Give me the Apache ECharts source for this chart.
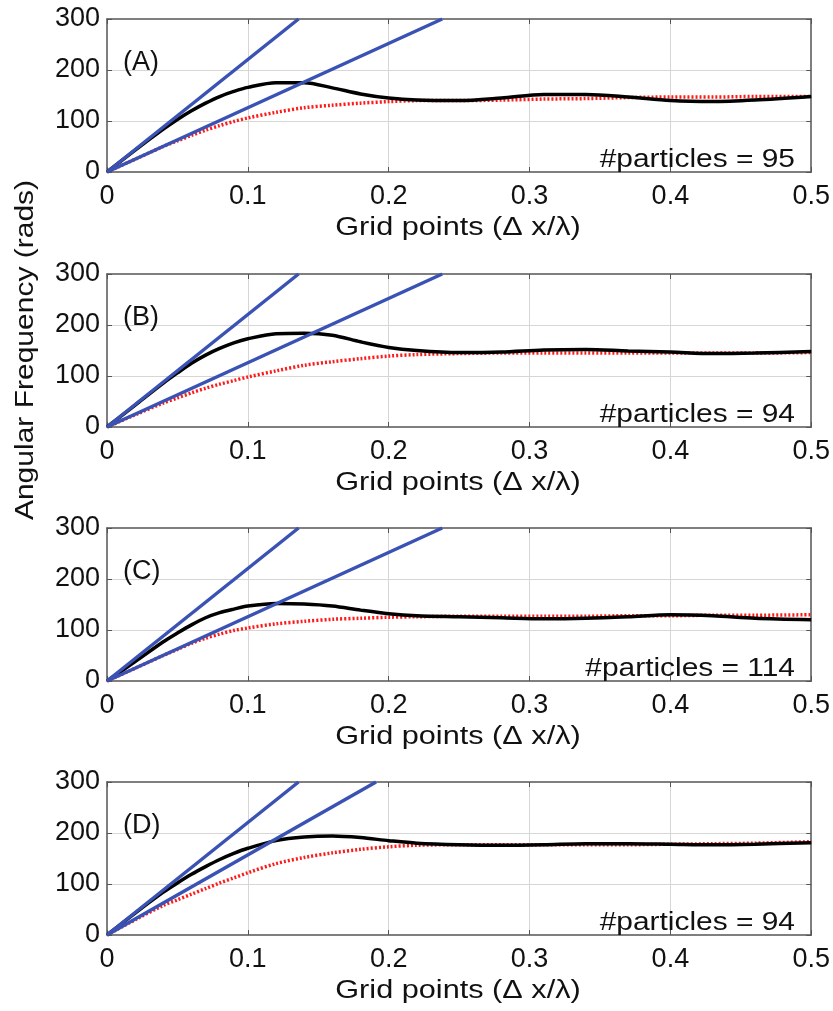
<!DOCTYPE html>
<html>
<head>
<meta charset="utf-8">
<script src="https://cdn.jsdelivr.net/npm/echarts@6/dist/echarts.min.js"></script>
<style>
  html, body { margin: 0; padding: 0; background: #fff; }
  #chart { width: 833px; height: 1011px; }
</style>
</head>
<body>
<div id="chart"></div>
<script>
// sample positions along x (grid points, dx/lambda)
const xs = [0, 0.02, 0.04, 0.05, 0.06, 0.07, 0.08, 0.09, 0.1, 0.12, 0.14, 0.16, 0.18, 0.2, 0.22, 0.25, 0.28, 0.31, 0.34, 0.37, 0.4, 0.43, 0.46, 0.5];

const panelNames = ['(A)', '(B)', '(C)', '(D)'];
const particleCounts = [95, 94, 114, 94];

// black solid curves
const blackA = [0, 43, 84, 103, 120, 135, 148, 158, 166, 175, 175, 165, 153, 145, 141, 140, 145, 152, 152, 147, 140, 138, 141, 148];
const blackB = [0, 43, 86, 106, 125, 141, 154, 165, 173, 183, 184, 180, 167, 156, 150, 146, 147, 151, 152, 149, 147, 144, 145, 148];
const blackC = [0, 38, 77, 94, 110, 124, 134, 141, 147, 152, 151, 147, 139, 132, 128, 126, 124, 122, 123, 126, 130, 128, 123, 120];
const blackD = [0, 43, 84, 102, 119, 134, 148, 160, 170, 185, 192, 194, 191, 185, 180, 177, 176, 177, 179, 179, 178, 177, 178, 181];

// red dotted curves
const redA = [0, 25, 50, 61, 72, 82, 91, 99, 106, 117, 126, 131, 135, 138, 140, 140, 141, 143, 144, 146, 147, 147, 148, 148];
const redB = [0, 24, 47, 57, 67, 76, 84, 91, 98, 110, 121, 128, 134, 139, 142, 144, 145, 145, 145, 145, 145, 145, 145, 146];
const redC = [0, 25, 50, 62, 74, 84, 92, 99, 104, 112, 117, 121, 123, 125, 126, 127, 127, 127, 127, 128, 128, 129, 129, 130];
const redD = [0, 30, 58, 69, 80, 91, 102, 112, 122, 140, 152, 161, 168, 173, 176, 177, 177, 177, 177, 177, 178, 179, 180, 183];

// straight blue lines: x where each reaches 300
const steepEndX = [0.136, 0.136, 0.136, 0.136];
const shallowEndX = [0.238, 0.238, 0.238, 0.191];

const yTicks = [0, 100, 200, 300];

const blacks = [blackA, blackB, blackC, blackD];
const reds = [redA, redB, redC, redD];
const tops = [19, 274, 528, 782];
const plotH = 153;
const plotLeft = 107;
const plotW = 705;

const font = 'Liberation Sans, Arial, sans-serif';
const chart = echarts.init(document.getElementById('chart'));

const grids = [], xAxes = [], yAxes = [], series = [], graphics = [];

function xAxisOf(i, pos, labels) {
  return {
    type: 'value', gridIndex: i, position: pos, min: 0, max: 0.5, interval: 0.1,
    axisLine: { show: true, onZero: false, lineStyle: { color: '#555', width: 1.5 } },
    axisTick: { inside: true, length: 5, lineStyle: { color: '#555' } },
    axisLabel: {
      show: labels, color: '#111', fontSize: 27, fontFamily: font, margin: 11,
      formatter: function (v) { return v === 0 ? '0' : v.toFixed(1); }
    },
    splitLine: { show: labels, showMinLine: false, showMaxLine: false, lineStyle: { color: '#d6d6d6', width: 1 } }
  };
}

function yAxisOf(i, pos, labels) {
  return {
    type: 'value', gridIndex: i, position: pos, min: yTicks[0], max: yTicks[yTicks.length - 1], interval: 100,
    axisLine: { show: true, onZero: false, lineStyle: { color: '#555', width: 1.5 } },
    axisTick: { inside: true, length: 5, lineStyle: { color: '#555' } },
    axisLabel: { show: labels, color: '#111', fontSize: 27, fontFamily: font, margin: 7 },
    splitLine: { show: labels, showMinLine: false, showMaxLine: false, lineStyle: { color: '#d6d6d6', width: 1 } }
  };
}

tops.forEach(function (top, i) {
  grids.push({ left: plotLeft, top: top, width: plotW, height: plotH });
  xAxes[i] = xAxisOf(i, 'bottom', true);
  xAxes[i + 4] = xAxisOf(i, 'top', false);
  yAxes[i] = yAxisOf(i, 'left', true);
  yAxes[i + 4] = yAxisOf(i, 'right', false);

  series.push({
    type: 'line', xAxisIndex: i, yAxisIndex: i, symbol: 'none', smooth: 0.3,
    data: xs.map(function (x, k) { return [x, reds[i][k]]; }),
    lineStyle: { color: '#ff1a1a', width: 3.5, type: [2, 2] }, z: 2
  });
  series.push({
    type: 'line', xAxisIndex: i, yAxisIndex: i, symbol: 'none', smooth: 0.3,
    data: xs.map(function (x, k) { return [x, blacks[i][k]]; }),
    lineStyle: { color: '#000', width: 3.5 }, z: 3
  });
  series.push({
    type: 'line', xAxisIndex: i, yAxisIndex: i, symbol: 'none',
    data: [[0, 0], [steepEndX[i], 300]],
    lineStyle: { color: '#3a52b4', width: 3.5 }, z: 4
  });
  series.push({
    type: 'line', xAxisIndex: i, yAxisIndex: i, symbol: 'none',
    data: [[0, 0], [shallowEndX[i], 300]],
    lineStyle: { color: '#3a52b4', width: 3.5 }, z: 4
  });

  const bottom = top + plotH;
  graphics.push({
    type: 'text', x: 123, y: top + 44, z: 10,
    style: { text: panelNames[i], font: '27px ' + font, fill: '#111', verticalAlign: 'middle' }
  });
  graphics.push({
    type: 'text', x: 795, y: bottom - 12, scaleX: 1.15, z: 10,
    style: { text: '#particles = ' + particleCounts[i], font: '26px ' + font, fill: '#111', align: 'right', verticalAlign: 'middle' }
  });
  graphics.push({
    type: 'text', x: 458, y: bottom + 56, scaleX: 1.18, z: 10,
    style: { text: 'Grid points (\u0394 x/\u03bb)', font: '26px ' + font, fill: '#111', align: 'center', verticalAlign: 'middle' }
  });
});

graphics.push({
  type: 'text', x: 26, y: 350, rotation: Math.PI / 2, scaleX: 1.2, z: 10,
  style: { text: 'Angular Frequency (rads)', font: '25px ' + font, fill: '#111', align: 'center', verticalAlign: 'middle' }
});

chart.setOption({
  animation: false,
  grid: grids,
  xAxis: xAxes,
  yAxis: yAxes,
  series: series,
  graphic: graphics
});
</script>
</body>
</html>
